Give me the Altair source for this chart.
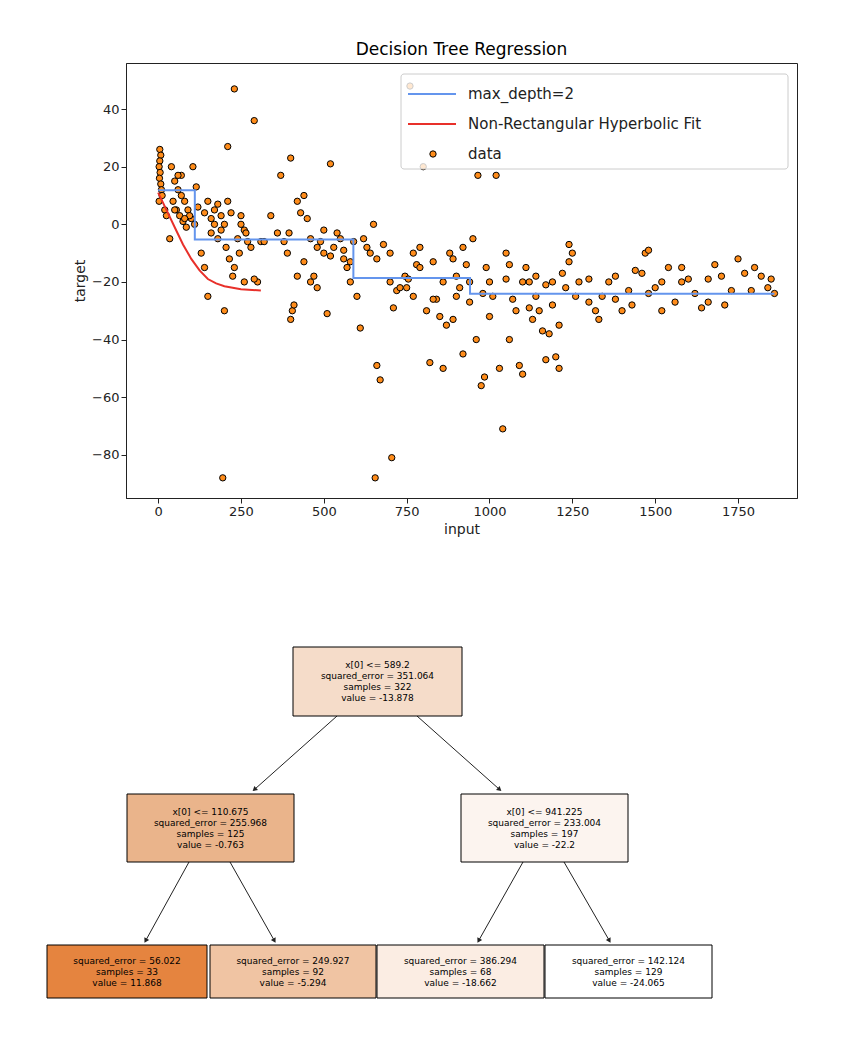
import math

import altair as alt
import pandas as pd

font = "DejaVu Sans"

data_x = [5, 8, 5, 3, 6, 4, 8, 10, 12, 3, 20, 25, 35, 40, 50, 60, 70, 80, 90, 100, 110, 45, 55, 65, 75, 85, 95, 70, 60, 105, 115, 50, 80, 120,
          130, 140, 150, 160, 170, 180, 190, 200, 210, 220, 230, 210, 250, 260, 270, 280, 290, 200, 195, 230, 240, 250, 265, 180, 160, 140, 150, 170, 190, 205, 215, 225, 245, 260, 300, 290, 310, 320,
          340, 360, 370, 380, 390, 400, 395, 405, 400, 410, 420, 430, 440, 450, 460, 470, 480, 490, 500, 510, 520, 530, 540, 550, 560, 570, 580, 590, 500, 460, 480, 420, 440, 520, 560, 580,
          600, 610, 620, 630, 640, 655, 660, 670, 680, 700, 705, 710, 720, 730, 745, 755, 760, 770, 780, 790, 800, 810, 820, 830, 840, 850, 860, 870, 880, 890, 900, 910, 920, 930, 940, 950, 960, 965, 975, 985,
          1000, 1010, 1020, 1030, 1040, 1050, 1060, 1070, 1080, 1090, 1100, 1110, 1120, 1130, 1140, 1150, 1160, 1170, 1180, 1190, 1200, 1210, 1220, 1230, 1240, 1250, 1260, 1270,
          1300, 1320, 1330, 1340, 1360, 1380, 1400, 1420, 1440, 1460, 1470, 1480, 1500, 1520, 1540, 1560, 1580, 1600, 1620, 1640, 1660, 1680, 1700, 1710, 1730, 1750, 1770, 1790, 1800, 1820, 1840, 1860, 1850,
          1580, 1660, 1480, 1380, 1300, 1430, 1520, 1210, 1190, 1100, 1060, 980, 990, 1050, 1140, 1170, 1240, 920, 890, 860, 940, 1000, 1120, 750, 790, 830, 770, 900, 700, 650, 660]
data_y = [26, 24, 22, 20, 18, 16, 14, 12, 10, 8, 5, 3, -5, 20, 15, 12, 10, 8, 5, 2, 0, 8, 5, 3, 1, -1, 3, 17, 17, 20, 13, 5, 2, 6,
          -10, -15, -25, -3, 5, 7, 3, 0, 8, 4, 47, 27, 0, -2, -6, -8, 36, -30, -88, -15, -5, 3, -3, -5, 2, 4, 8, 0, -2, -8, -12, -18, -10, -20, -20, -19, -6, -6,
          3, -3, 17, -6, -10, 23, -3, -30, -33, -28, 8, 4, 10, 2, -20, -18, -22, -6, -10, -31, 21, -8, -3, -5, -12, -15, -20, -6, -2, -5, -8, -18, -13, -11, -9, -13,
          -25, -36, -5, -8, -10, -88, -49, -54, -7, -20, -81, -29, -23, -22, -18, -19, 48, -10, -14, -15, 20, -30, -48, -13, -26, -32, -50, -35, -10, -12, -18, -22, -8, -14, -20, -5, -40, 17, -56, -53,
          -20, -25, 17, -50, -71, -10, -14, -26, -30, -49, -52, -15, -20, -33, -25, -30, -37, -47, -38, -20, -46, -50, -17, -22, -7, -10, -25, -20,
          -19, -30, -33, -25, -20, -18, -30, -23, -16, -17, -10, -9, -22, -20, -15, -27, -20, -19, -24, -29, -27, -14, -18, -28, -23, -12, -17, -23, -15, -18, -22, -24, -19,
          -15, -19, -24, -26, -27, -28, -30, -35, -28, -20, -40, -24, -15, -19, -18, -21, -13, -45, -33, -20, -27, -32, -29, -22, -8, -26, -25, -25, -10, 0, -12]

step_x = [0, 110.675, 589.2, 941.225, 1860]
step_y = [11.868, -5.294, -18.662, -24.065, -24.065]

fit_x = [0, 25, 50, 75, 100, 125, 150, 175, 200, 250, 310]
fit_y = [11, 5, -1, -7, -12, -16, -19, -20.5, -21.5, -22.5, -23]

legend_labels = ["max_depth=2", "Non-Rectangular Hyperbolic Fit", "data"]

node_text = [
    "x[0] <= 589.2\nsquared_error = 351.064\nsamples = 322\nvalue = -13.878",
    "x[0] <= 110.675\nsquared_error = 255.968\nsamples = 125\nvalue = -0.763",
    "x[0] <= 941.225\nsquared_error = 233.004\nsamples = 197\nvalue = -22.2",
    "squared_error = 56.022\nsamples = 33\nvalue = 11.868",
    "squared_error = 249.927\nsamples = 92\nvalue = -5.294",
    "squared_error = 386.294\nsamples = 68\nvalue = -18.662",
    "squared_error = 142.124\nsamples = 129\nvalue = -24.065",
]
node_color = ["#f5dcc9", "#eab48b", "#fcf4ef", "#e5843f", "#f0c4a3", "#fbede3", "#ffffff"]
# layout of the tree drawing (page-like units)
node_x0 = [292, 126, 460, 46, 209, 376, 544]
node_x1 = [461, 293, 627, 206, 375, 543, 711]
node_y0 = [648, 795, 795, 946, 946, 946, 946]
node_y1 = [717, 863, 863, 999, 999, 999, 999]
edge_x0 = [336, 416, 188, 229, 522, 563]
edge_y0 = [717, 717, 863, 863, 863, 863]
edge_x1 = [254, 498, 145, 273, 478, 608]
edge_y1 = [790, 790, 941, 941, 941, 941]

OX, OY = 125, 640
TW, TH = 671, 370

pts = pd.DataFrame({"x": data_x, "y": data_y})
steps = pd.DataFrame({"x": step_x, "y": step_y})
fit = pd.DataFrame({"x": fit_x, "y": fit_y})

xs = alt.Scale(domain=[-97, 1928], nice=False, zero=False)
ys = alt.Scale(domain=[-95, 56], nice=False, zero=False)
xe = alt.X("x:Q", scale=xs, title="input",
           axis=alt.Axis(values=list(range(0, 2000, 250)), grid=False, format="d"))
ye = alt.Y("y:Q", scale=ys, title="target",
           axis=alt.Axis(values=list(range(-80, 60, 20)), grid=False))

scatter = alt.Chart(pts).mark_point(
    filled=True, fill="#ff8c1a", stroke="black", strokeWidth=1, size=40, opacity=1
).encode(x=xe, y=ye)
step_line = alt.Chart(steps).mark_line(
    color="#6495ed", strokeWidth=2, interpolate="step-after"
).encode(x=xe, y=ye)
fit_line = alt.Chart(fit).mark_line(color="#e8302a", strokeWidth=2).encode(x=xe, y=ye)

leg_box = alt.Chart(pd.DataFrame({"a": [0]})).mark_rect(
    fill="white", fillOpacity=0.8, stroke="#cccccc", cornerRadius=3
).encode(x=alt.value(275), x2=alt.value(662), y=alt.value(11), y2=alt.value(106))
leg_df = pd.DataFrame({"label": legend_labels, "py": [31, 61, 91]})
leg_lines = alt.Chart(pd.DataFrame({"py": [31, 61], "c": ["#6495ed", "#e8302a"]})).mark_rule(
    strokeWidth=2
).encode(x=alt.value(282), x2=alt.value(330), y=alt.Y("py:Q", scale=None),
         color=alt.Color("c:N", scale=None))
leg_pt = alt.Chart(pd.DataFrame({"py": [91]})).mark_point(
    filled=True, fill="#ff8c1a", stroke="black", strokeWidth=1, size=40, opacity=1
).encode(x=alt.value(307), y=alt.Y("py:Q", scale=None))
leg_text = alt.Chart(leg_df).mark_text(
    align="left", baseline="middle", fontSize=15, font=font, color="#222"
).encode(x=alt.value(342), y=alt.Y("py:Q", scale=None), text="label:N")

top = alt.layer(scatter, step_line, fit_line, leg_box, leg_lines, leg_pt, leg_text).properties(
    width=671, height=435,
    view=alt.ViewBackground(stroke="#222"),
    title=alt.TitleParams("Decision Tree Regression", fontSize=17, font=font, fontWeight="normal"),
)

tx = alt.Scale(domain=[OX, OX + TW], nice=False, zero=False)
ty = alt.Scale(domain=[OY + TH, OY], nice=False, zero=False)

nodes = pd.DataFrame({
    "x0": node_x0, "x1": node_x1, "y0": node_y0, "y1": node_y1,
    "c": node_color, "t": node_text,
})
nodes["cx"] = (nodes.x0 + nodes.x1) / 2
nodes["cy"] = (nodes.y0 + nodes.y1) / 2
nodes["lines"] = nodes.t.str.count("\n") + 1
edges = pd.DataFrame({"x0": edge_x0, "y0": edge_y0, "x1": edge_x1, "y1": edge_y1})
edges["ang"] = [
    math.degrees(math.atan2(r.x1 - r.x0, -(r.y1 - r.y0))) % 360 for r in edges.itertuples()
]

ax_none = dict(axis=None)
boxes = alt.Chart(nodes).mark_rect(stroke="black", strokeWidth=1).encode(
    x=alt.X("x0:Q", scale=tx, **ax_none), x2="x1:Q",
    y=alt.Y("y0:Q", scale=ty, **ax_none), y2="y1:Q",
    color=alt.Color("c:N", scale=None),
)


def node_labels(n):
    return alt.Chart(nodes[nodes.lines == n]).mark_text(
        fontSize=9, font=font, lineBreak="\n", baseline="middle", color="black",
        lineHeight=11, dy=-(n - 1) * 11 / 2,
    ).encode(
        x=alt.X("cx:Q", scale=tx, **ax_none), y=alt.Y("cy:Q", scale=ty, **ax_none), text="t:N"
    )


rules = alt.Chart(edges).mark_rule(color="#222", strokeWidth=1).encode(
    x=alt.X("x0:Q", scale=tx, **ax_none), x2="x1:Q",
    y=alt.Y("y0:Q", scale=ty, **ax_none), y2="y1:Q",
)
heads = alt.Chart(edges).mark_point(
    shape="triangle", filled=True, color="#222", size=30, opacity=1
).encode(
    x=alt.X("x1:Q", scale=tx, **ax_none), y=alt.Y("y1:Q", scale=ty, **ax_none),
    angle=alt.Angle("ang:Q", scale=None),
)

tree = alt.layer(rules, heads, boxes, node_labels(4), node_labels(3)).properties(
    width=TW, height=TH, view=alt.ViewBackground(stroke=None)
)

chart = alt.vconcat(top, tree, spacing=102).properties(
    padding={"left": 38, "top": 32, "right": 5, "bottom": 5}
).configure_axis(labelFont=font, titleFont=font, labelFontSize=13, titleFontSize=14,
                 titleFontWeight="normal", labelColor="#222", titleColor="#222",
                 domainColor="#222", tickColor="#222")

chart.save("out.html", embed_options={"renderer": "svg", "actions": False})
